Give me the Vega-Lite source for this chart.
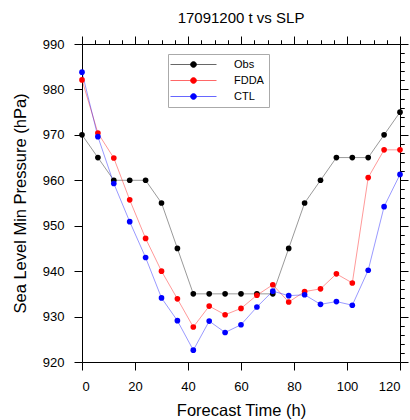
{
  "$schema": "https://vega.github.io/schema/vega-lite/v6.json",
  "autosize": {"type": "none"},
  "padding": {"left": 82, "top": 44, "right": 10, "bottom": 58},
  "width": 318,
  "height": 318,
  "title": {"text": "17091200 t vs SLP", "fontSize": 15, "font": "Liberation Sans", "fontWeight": "normal", "color": "#000", "offset": 10},
  "config": {
    "font": "Liberation Sans",
    "view": {"stroke": null},
    "axis": {"grid": false, "tickColor": "#000", "domainColor": "#000", "labelColor": "#000", "titleColor": "#000", "labelFont": "Liberation Sans", "titleFont": "Liberation Sans", "labelFontSize": 13, "titleFontSize": 16.5, "titleFontWeight": "normal", "tickWidth": 1, "domainWidth": 1}
  },
  "data": {"values": [
    {"t":0,"slp":970,"run":"Obs"},{"t":6,"slp":965,"run":"Obs"},{"t":12,"slp":960,"run":"Obs"},{"t":18,"slp":960,"run":"Obs"},{"t":24,"slp":960,"run":"Obs"},{"t":30,"slp":955,"run":"Obs"},{"t":36,"slp":945,"run":"Obs"},{"t":42,"slp":935,"run":"Obs"},{"t":48,"slp":935,"run":"Obs"},{"t":54,"slp":935,"run":"Obs"},{"t":60,"slp":935,"run":"Obs"},{"t":66,"slp":935,"run":"Obs"},{"t":72,"slp":935,"run":"Obs"},{"t":78,"slp":945,"run":"Obs"},{"t":84,"slp":955,"run":"Obs"},{"t":90,"slp":960,"run":"Obs"},{"t":96,"slp":965,"run":"Obs"},{"t":102,"slp":965,"run":"Obs"},{"t":108,"slp":965,"run":"Obs"},{"t":114,"slp":970,"run":"Obs"},{"t":120,"slp":975,"run":"Obs"},
    {"t":0,"slp":982.1,"run":"FDDA"},{"t":6,"slp":970.4,"run":"FDDA"},{"t":12,"slp":964.9,"run":"FDDA"},{"t":18,"slp":955.7,"run":"FDDA"},{"t":24,"slp":947.2,"run":"FDDA"},{"t":30,"slp":940.0,"run":"FDDA"},{"t":36,"slp":933.9,"run":"FDDA"},{"t":42,"slp":927.7,"run":"FDDA"},{"t":48,"slp":932.3,"run":"FDDA"},{"t":54,"slp":930.4,"run":"FDDA"},{"t":60,"slp":931.8,"run":"FDDA"},{"t":66,"slp":934.7,"run":"FDDA"},{"t":72,"slp":937.0,"run":"FDDA"},{"t":78,"slp":933.2,"run":"FDDA"},{"t":84,"slp":935.5,"run":"FDDA"},{"t":90,"slp":936.1,"run":"FDDA"},{"t":96,"slp":939.4,"run":"FDDA"},{"t":102,"slp":937.4,"run":"FDDA"},{"t":108,"slp":960.6,"run":"FDDA"},{"t":114,"slp":966.7,"run":"FDDA"},{"t":120,"slp":966.7,"run":"FDDA"},
    {"t":0,"slp":983.8,"run":"CTL"},{"t":6,"slp":969.6,"run":"CTL"},{"t":12,"slp":959.3,"run":"CTL"},{"t":18,"slp":950.9,"run":"CTL"},{"t":24,"slp":943.0,"run":"CTL"},{"t":30,"slp":934.1,"run":"CTL"},{"t":36,"slp":929.1,"run":"CTL"},{"t":42,"slp":922.6,"run":"CTL"},{"t":48,"slp":929.0,"run":"CTL"},{"t":54,"slp":926.5,"run":"CTL"},{"t":60,"slp":928.2,"run":"CTL"},{"t":66,"slp":932.1,"run":"CTL"},{"t":72,"slp":935.6,"run":"CTL"},{"t":78,"slp":934.6,"run":"CTL"},{"t":84,"slp":934.8,"run":"CTL"},{"t":90,"slp":932.7,"run":"CTL"},{"t":96,"slp":933.3,"run":"CTL"},{"t":102,"slp":932.5,"run":"CTL"},{"t":108,"slp":940.2,"run":"CTL"},{"t":114,"slp":954.2,"run":"CTL"},{"t":120,"slp":961.3,"run":"CTL"}
  ]},
  "resolve": {"axis": {"x": "independent", "y": "independent"}},
  "layer": [
    {
      "mark": {"type": "line", "strokeWidth": 1, "strokeOpacity": 0.4},
      "encoding": {
        "x": {"field": "t", "type": "quantitative", "scale": {"domain": [0, 120], "nice": false}, "axis": {"values": [0,20,40,60,80,100,120], "tickSize": 8, "labelPadding": 10, "title": "Forecast Time (h)", "titlePadding": 9}},
        "y": {"field": "slp", "type": "quantitative", "scale": {"domain": [920, 990], "nice": false, "zero": false}, "axis": {"values": [920,930,940,950,960,970,980,990], "tickSize": 8, "labelPadding": 10, "title": "Sea Level Min Pressure (hPa)", "titlePadding": 14}},
        "color": {"field": "run", "type": "nominal", "scale": {"domain": ["Obs", "FDDA", "CTL"], "range": ["#000000", "#ff0000", "#0000ff"]},
          "legend": {"title": null, "orient": "none", "legendX": 86, "legendY": 10, "padding": 5, "strokeColor": "#aaaaaa", "fillColor": "#ffffff", "labelFontSize": 11, "labelColor": "#000", "labelFont": "Liberation Sans", "symbolType": "M-4.6,0H4.6M0.6,0A0.6,0.6,0,1,1,-0.6,0A0.6,0.6,0,1,1,0.6,0Z", "symbolSize": 100, "symbolStrokeWidth": 0.6, "symbolOffset": 15, "labelOffset": 35, "rowPadding": 4}},
        "detail": {"field": "run"}
      }
    },
    {
      "mark": {"type": "point", "filled": true, "opacity": 1, "size": 32},
      "encoding": {
        "x": {"field": "t", "type": "quantitative", "axis": {"values": [0,5,10,15,25,30,35,45,50,55,65,70,75,85,90,95,105,110,115], "tickSize": 4, "labels": false, "domain": false, "title": null}},
        "y": {"field": "slp", "type": "quantitative", "axis": {"values": [922,924,926,928,932,934,936,938,942,944,946,948,952,954,956,958,962,964,966,968,972,974,976,978,982,984,986,988], "tickSize": 4, "labels": false, "domain": false, "title": null}},
        "color": {"field": "run", "type": "nominal", "legend": null}
      }
    },
    {
      "mark": {"type": "point", "opacity": 0},
      "encoding": {
        "x": {"field": "t", "type": "quantitative", "axis": {"orient": "top", "values": [0,20,40,60,80,100,120], "tickSize": 8, "labels": false, "title": null}},
        "y": {"field": "slp", "type": "quantitative", "axis": {"orient": "right", "values": [920,930,940,950,960,970,980,990], "tickSize": 8, "labels": false, "title": null}}
      }
    },
    {
      "mark": {"type": "point", "opacity": 0},
      "encoding": {
        "x": {"field": "t", "type": "quantitative", "axis": {"orient": "top", "values": [0,5,10,15,25,30,35,45,50,55,65,70,75,85,90,95,105,110,115], "tickSize": 4, "labels": false, "domain": false, "title": null}},
        "y": {"field": "slp", "type": "quantitative", "axis": {"orient": "right", "values": [922,924,926,928,932,934,936,938,942,944,946,948,952,954,956,958,962,964,966,968,972,974,976,978,982,984,986,988], "tickSize": 4, "labels": false, "domain": false, "title": null}}
      }
    }
  ]
}
